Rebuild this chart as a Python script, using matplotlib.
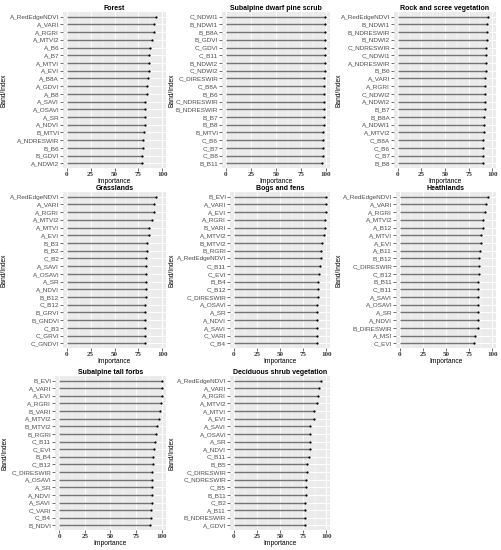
import matplotlib
matplotlib.use('Agg')
import matplotlib.pyplot as plt
import numpy as np

# ---- data (top-to-bottom order as shown) ----
forest_labels = ['A_RedEdgeNDVI', 'A_VARI', 'A_RGRI', 'A_MTVI2', 'A_B6', 'A_B7', 'A_MTVI', 'A_EVI',
                 'A_B8A', 'A_GDVI', 'A_B8', 'A_SAVI', 'A_OSAVI', 'A_SR', 'A_NDVI', 'B_MTVI',
                 'A_NDRESWIR', 'B_B6', 'B_GDVI', 'A_NDWI2']
forest_values = [93.7, 91.3, 91.0, 89.0, 86.8, 86.4, 86.0, 86.0, 85.0, 84.2, 84.0, 82.3, 82.2, 82.1,
                 82.0, 80.8, 79.8, 79.4, 79.1, 79.0]

pine_labels = ['C_NDWI1', 'B_NDWI1', 'B_B8A', 'B_GDVI', 'C_GDVI', 'C_B11', 'B_NDWI2', 'C_NDWI2',
               'C_DIRESWIR', 'C_B8A', 'B_B6', 'C_NDRESWIR', 'B_NDRESWIR', 'B_B7', 'B_B8', 'B_MTVI',
               'C_B6', 'C_B7', 'C_B8', 'B_B11']
pine_values = [99.3, 99.3, 99.0, 99.0, 98.7, 98.7, 98.6, 98.6, 98.3, 98.3, 98.2, 98.2, 98.0, 98.0,
               97.6, 97.0, 97.0, 96.9, 96.7, 96.0]

rock_labels = ['A_RedEdgeNDVI', 'B_NDWI1', 'B_NDRESWIR', 'B_NDWI2', 'C_NDRESWIR', 'C_NDWI1',
               'A_NDRESWIR', 'B_B6', 'A_VARI', 'A_RGRI', 'C_NDWI2', 'A_NDWI2', 'B_B7', 'B_B8A',
               'A_NDWI1', 'A_MTVI2', 'C_B8A', 'C_B6', 'C_B7', 'B_B8']
rock_values = [95.4, 95.0, 94.7, 94.0, 93.3, 93.0, 93.0, 92.9, 92.6, 92.3, 92.2, 92.0, 91.9, 91.8,
               91.5, 90.8, 90.5, 90.4, 90.0, 90.0]

grass_labels = ['A_RedEdgeNDVI', 'A_VARI', 'A_RGRI', 'A_MTVI2', 'A_MTVI', 'A_EVI', 'B_B3', 'B_B2',
                'C_B2', 'A_SAVI', 'A_OSAVI', 'A_SR', 'A_NDVI', 'B_B12', 'C_B12', 'B_GRVI',
                'B_GNDVI', 'C_B3', 'C_GRVI', 'C_GNDVI']
grass_values = [94.0, 91.6, 91.3, 89.5, 86.4, 86.0, 84.0, 83.6, 83.1, 83.0, 83.0, 83.0, 82.9, 82.6,
                82.5, 82.2, 82.1, 81.9, 81.8, 81.5]

bog_labels = ['B_EVI', 'A_VARI', 'A_EVI', 'A_RGRI', 'B_VARI', 'A_MTVI2', 'B_MTVI2', 'B_RGRI',
              'A_RedEdgeNDVI', 'C_B11', 'C_EVI', 'B_B4', 'C_B12', 'C_DIRESWIR', 'A_OSAVI', 'A_SR',
              'A_NDVI', 'A_SAVI', 'C_VARI', 'C_B4']
bog_values = [100.0, 99.6, 99.6, 98.6, 98.3, 97.6, 95.5, 94.8, 94.4, 93.0, 91.6, 91.3, 91.0, 90.6,
              90.2, 90.2, 90.1, 90.1, 89.9, 89.5]

heath_labels = ['A_RedEdgeNDVI', 'A_VARI', 'A_RGRI', 'A_MTVI2', 'A_B12', 'A_MTVI', 'A_EVI', 'A_B11',
                'B_B12', 'C_DIRESWIR', 'C_B12', 'B_B11', 'C_B11', 'A_SAVI', 'A_OSAVI', 'A_SR',
                'A_NDVI', 'B_DIRESWIR', 'A_MSI', 'C_EVI']
heath_values = [95.4, 93.0, 92.6, 90.5, 90.4, 87.7, 87.6, 86.6, 86.0, 85.9, 85.2, 85.1, 85.0, 84.5,
                84.5, 84.4, 84.4, 84.2, 81.3, 80.3]

forbs_labels = ['B_EVI', 'A_VARI', 'A_EVI', 'A_RGRI', 'B_VARI', 'A_MTVI2', 'B_MTVI2', 'B_RGRI',
                'C_B11', 'C_EVI', 'B_B4', 'C_B12', 'C_DIRESWIR', 'A_OSAVI', 'A_SR', 'A_NDVI',
                'A_SAVI', 'C_VARI', 'C_B4', 'B_NDVI']
forbs_values = [100.0, 99.7, 99.7, 98.7, 98.0, 97.4, 95.2, 94.5, 92.9, 92.0, 91.3, 91.0, 90.4, 90.0,
                90.0, 89.9, 89.9, 89.4, 89.0, 88.7]

shrub_labels = ['A_RedEdgeNDVI', 'A_VARI', 'A_RGRI', 'A_MTVI2', 'A_MTVI', 'A_EVI', 'A_SAVI',
                'A_OSAVI', 'A_SR', 'A_NDVI', 'C_B11', 'B_B5', 'C_DIRESWIR', 'C_NDRESWIR', 'C_B5',
                'B_B11', 'C_B2', 'A_B11', 'B_NDRESWIR', 'A_GDVI']
shrub_values = [94.4, 91.6, 91.3, 89.5, 86.7, 86.4, 82.9, 82.8, 82.7, 82.5, 80.8, 79.4, 79.0, 78.0,
                77.9, 77.6, 77.5, 77.3, 76.9, 76.8]

titles = ['Forest', 'Subalpine dwarf pine scrub', 'Rock and scree vegetation', 'Grasslands',
          'Bogs and fens', 'Heathlands', 'Subalpine tall forbs', 'Deciduous shrub vegetation']
panels = [(forest_labels, forest_values), (pine_labels, pine_values), (rock_labels, rock_values),
          (grass_labels, grass_values), (bog_labels, bog_values), (heath_labels, heath_values),
          (forbs_labels, forbs_values), (shrub_labels, shrub_values)]

W, H = 502, 550
fig = plt.figure(figsize=(W / 100, H / 100), dpi=100)
plt.rcParams['font.family'] = 'Liberation Sans'

# panel boxes in pixels: (left, right, top, bottom)
col_left = [0, 167, 335]
rights = [166, 330, 496]
tops = [12, 192, 376]
bottoms = [168, 348, 530]
lefts = [[63, 222, 394], [63, 230, 396], [55, 230]]

tick_grey = '#4D4D4D'
for i, (title, (labels, vals)) in enumerate(zip(titles, panels)):
    r, c = divmod(i, 3)
    l, rr, t, b = lefts[r][c], rights[c], tops[r], bottoms[r]
    ax = fig.add_axes([l / W, 1 - b / H, (rr - l) / W, (b - t) / H])
    ax.set_facecolor('#EBEBEB')
    n = len(labels)
    y = np.arange(n)[::-1]
    ax.hlines(y, 0, vals, color='#747474', lw=1.0, zorder=3)
    ax.scatter(vals, y, s=2.5, color='black', zorder=4, linewidths=0)
    ax.set_xlim(-4, 104)
    ax.set_ylim(-0.6, n - 0.4)
    ax.set_yticks(y)
    ax.set_yticklabels(labels, fontsize=4.6, color=tick_grey)
    ax.set_xticks([0, 25, 50, 75, 100])
    ax.set_xticklabels(['0', '25', '50', '75', '100'], fontsize=5.0, color='#333333',
                       family='Liberation Serif', fontweight='bold')
    ax.set_xticks([12.5, 37.5, 62.5, 87.5], minor=True)
    ax.grid(which='major', color='white', lw=0.7, zorder=0)
    ax.grid(which='minor', axis='x', color='white', lw=0.35, zorder=0)
    ax.set_axisbelow(True)
    ax.tick_params(which='major', length=2, width=0.5, color='#333333', pad=0.8)
    ax.tick_params(which='minor', length=0)
    for s in ax.spines.values():
        s.set_visible(False)
    ax.set_title(title, fontsize=5.0, fontweight='bold', pad=1.5)
    ax.set_xlabel('Importance', fontsize=4.8, labelpad=0.5)
    ax.set_ylabel('Band/Index', fontsize=4.8)
    lx = (col_left[c] + 8 - l) / (rr - l)
    ax.yaxis.set_label_coords(lx, 0.5)

fig.savefig('out.png', dpi=100, facecolor='white')
